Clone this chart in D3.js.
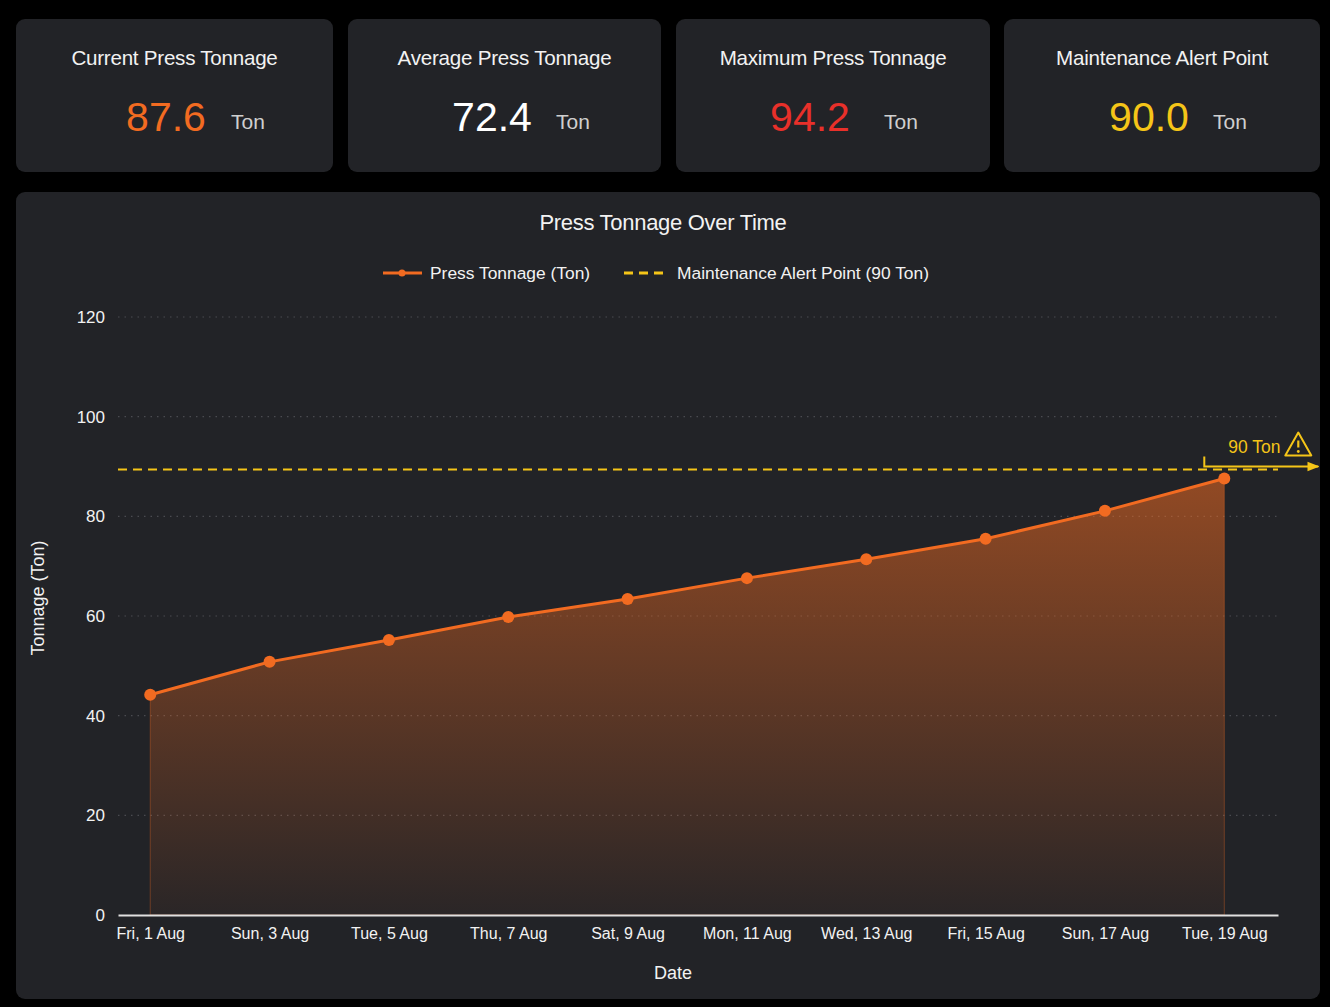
<!DOCTYPE html>
<html>
<head>
<meta charset="utf-8">
<script src="https://cdn.jsdelivr.net/npm/d3@7/dist/d3.min.js"></script>
<style>
  html, body { margin: 0; padding: 0; background: #000; }
  body { width: 1330px; height: 1007px; overflow: hidden; font-family: "Liberation Sans", Arial, sans-serif; }
  svg { display: block; }
</style>
</head>
<body>
<svg id="chart" width="1330" height="1007"></svg>
<script>
// ---------- DATA ----------
const dates = ["2025-08-01","2025-08-03","2025-08-05","2025-08-07","2025-08-09","2025-08-11","2025-08-13","2025-08-15","2025-08-17","2025-08-19"];
const tonnage = [44.2, 50.8, 55.2, 59.8, 63.4, 67.6, 71.4, 75.5, 81.1, 87.6];
const alertPoint = 90;
const yTicks = [0, 20, 40, 60, 80, 100, 120];
const cardTitles = ["Current Press Tonnage", "Average Press Tonnage", "Maximum Press Tonnage", "Maintenance Alert Point"];
const cardValues = ["87.6", "72.4", "94.2", "90.0"];
const cardColors = ["#f26b21", "#ffffff", "#e8302a", "#f5c518"];
const cardUnit = "Ton";

// ---------- SETUP ----------
const svg = d3.select("#chart");
const parse = d3.timeParse("%Y-%m-%d");
const data = dates.map((d, i) => ({ date: parse(d), value: tonnage[i] }));

const defs = svg.append("defs");

// Cards (layout)
const cardX = [16, 348, 676, 1004];
const cardW = [317, 313, 314, 316];
const valueCX = [166, 492, 810, 1149];
const unitX = [231, 556, 884, 1213];
cardTitles.forEach((t, i) => {
  svg.append("rect").attr("x", cardX[i]).attr("y", 19).attr("width", cardW[i]).attr("height", 153).attr("rx", 9).attr("fill", "#222327");
  svg.append("text").attr("x", cardX[i] + cardW[i] / 2).attr("y", 65).attr("text-anchor", "middle")
    .attr("fill", "#f2f2f2").attr("font-size", 20.6).attr("letter-spacing", -0.25).text(t);
  svg.append("text").attr("x", valueCX[i]).attr("y", 131).attr("text-anchor", "middle")
    .attr("fill", cardColors[i]).attr("font-size", 41).text(cardValues[i]);
  svg.append("text").attr("x", unitX[i]).attr("y", 129).attr("fill", "#cfcfcf").attr("font-size", 21).text(cardUnit);
});

// Chart panel
svg.append("rect").attr("x", 16).attr("y", 192).attr("width", 1304).attr("height", 807).attr("rx", 9).attr("fill", "#222327");

svg.append("text").attr("x", 663).attr("y", 230).attr("text-anchor", "middle")
  .attr("fill", "#f2f2f2").attr("font-size", 22).attr("letter-spacing", -0.3).text("Press Tonnage Over Time");

// Scales
const plotLeft = 118, plotRight = 1278, plotTop = 317, plotBottom = 915;
const dayMs = 86400000;
const x = d3.scaleTime()
  .domain([new Date(data[0].date.getTime() - 0.54 * dayMs), new Date(data[data.length - 1].date.getTime() + 0.9 * dayMs)])
  .range([plotLeft, plotRight]);
const y = d3.scaleLinear().domain([0, 120]).range([plotBottom, plotTop]);

// Gridlines
svg.append("g").selectAll("line").data(yTicks.filter(v => v > 0)).join("line")
  .attr("x1", plotLeft).attr("x2", plotRight)
  .attr("y1", d => y(d)).attr("y2", d => y(d))
  .attr("stroke", "#4a4b50").attr("stroke-width", 1.2).attr("stroke-dasharray", "1.5,5");

// Y axis
const yAxis = svg.append("g").attr("transform", `translate(${plotLeft},0)`)
  .call(d3.axisLeft(y).tickValues(yTicks).tickSize(0).tickPadding(13));
yAxis.select(".domain").remove();
yAxis.selectAll("text").attr("fill", "#f2f2f2").attr("font-size", 17).attr("font-family", "Liberation Sans, Arial, sans-serif");

// Gradient
const grad = defs.append("linearGradient").attr("id", "areaGrad")
  .attr("gradientUnits", "userSpaceOnUse").attr("x1", 0).attr("x2", 0).attr("y1", y(90)).attr("y2", y(0));
grad.append("stop").attr("offset", "0%").attr("stop-color", "#f26b21").attr("stop-opacity", 0.55);
grad.append("stop").attr("offset", "100%").attr("stop-color", "#f26b21").attr("stop-opacity", 0.04);

// Area
const area = d3.area().x(d => x(d.date)).y0(y(0)).y1(d => y(d.value));
svg.append("path").datum(data).attr("d", area).attr("fill", "url(#areaGrad)")
  .attr("stroke", "rgba(242,107,33,0.35)").attr("stroke-width", 1);

// Alert line
svg.append("line").attr("x1", plotLeft).attr("x2", plotRight)
  .attr("y1", y(alertPoint) + 3).attr("y2", y(alertPoint) + 3)
  .attr("stroke", "#f5c518").attr("stroke-width", 2).attr("stroke-dasharray", "9,6");

// Line
const line = d3.line().x(d => x(d.date)).y(d => y(d.value));
svg.append("path").datum(data).attr("d", line).attr("fill", "none")
  .attr("stroke", "#f26b21").attr("stroke-width", 3);
svg.append("g").selectAll("circle").data(data).join("circle")
  .attr("cx", d => x(d.date)).attr("cy", d => y(d.value)).attr("r", 6).attr("fill", "#f26b21");

// X axis
const xAxis = svg.append("g").attr("transform", `translate(0,${plotBottom})`)
  .call(d3.axisBottom(x).tickValues(data.map(d => d.date)).tickFormat(d3.timeFormat("%a, %-d %b")).tickSize(0).tickPadding(13));
xAxis.select(".domain").attr("stroke", "#e0e0e0").attr("stroke-width", 2);
xAxis.selectAll("text").attr("fill", "#f2f2f2").attr("font-size", 16).attr("font-family", "Liberation Sans, Arial, sans-serif");

// Axis titles
svg.append("text").attr("x", 673).attr("y", 979).attr("text-anchor", "middle")
  .attr("fill", "#f2f2f2").attr("font-size", 18).text("Date");
svg.append("text").attr("transform", "translate(44,598) rotate(-90)").attr("text-anchor", "middle")
  .attr("fill", "#f2f2f2").attr("font-size", 18).text("Tonnage (Ton)");

// Annotation
const lastX = x(data[data.length - 1].date);
const ay = y(alertPoint);
defs.append("marker").attr("id", "arrow").attr("viewBox", "0 0 10 10").attr("refX", 9).attr("refY", 5)
  .attr("markerWidth", 6).attr("markerHeight", 6).attr("orient", "auto")
  .append("path").attr("d", "M0,1 L10,5 L0,9 Z").attr("fill", "#f5c518");
svg.append("path")
  .attr("d", `M${lastX - 20},${ay - 10} L${lastX - 20},${ay} L${lastX + 94},${ay}`)
  .attr("fill", "none").attr("stroke", "#f5c518").attr("stroke-width", 2).attr("marker-end", "url(#arrow)");
svg.append("text").attr("x", lastX + 4).attr("y", ay - 14).attr("fill", "#f5c518").attr("font-size", 17.5).text("90 Ton");
// warning triangle icon
const tx = lastX + 74, ty = ay - 34;
svg.append("path").attr("d", `M${tx},${ty} L${tx + 13},${ty + 23} L${tx - 13},${ty + 23} Z`)
  .attr("fill", "none").attr("stroke", "#f5c518").attr("stroke-width", 2).attr("stroke-linejoin", "round");
svg.append("line").attr("x1", tx).attr("x2", tx).attr("y1", ty + 8).attr("y2", ty + 15)
  .attr("stroke", "#f5c518").attr("stroke-width", 2.2);
svg.append("circle").attr("cx", tx).attr("cy", ty + 19).attr("r", 1.4).attr("fill", "#f5c518");

// Legend
const lg = svg.append("g");
lg.append("line").attr("x1", 383).attr("x2", 422).attr("y1", 273).attr("y2", 273).attr("stroke", "#f26b21").attr("stroke-width", 3);
lg.append("circle").attr("cx", 402).attr("cy", 273).attr("r", 3.5).attr("fill", "#f26b21");
lg.append("text").attr("x", 430).attr("y", 279).attr("fill", "#f2f2f2").attr("font-size", 17.4).text("Press Tonnage (Ton)");
lg.append("line").attr("x1", 624).attr("x2", 664).attr("y1", 273).attr("y2", 273).attr("stroke", "#f5c518").attr("stroke-width", 3).attr("stroke-dasharray", "9,6");
lg.append("text").attr("x", 677).attr("y", 279).attr("fill", "#f2f2f2").attr("font-size", 17.4).text("Maintenance Alert Point (90 Ton)");
</script>
</body>
</html>
